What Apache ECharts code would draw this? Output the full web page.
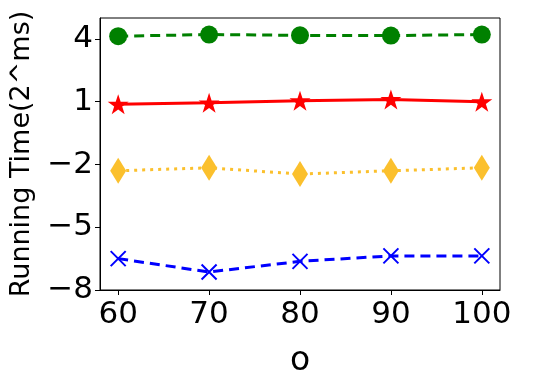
<!DOCTYPE html>
<html>
<head>
<meta charset="utf-8">
<script src="https://cdn.jsdelivr.net/npm/echarts@6/dist/echarts.min.js"></script>
<style>html,body{margin:0;padding:0;background:#fff}#c{width:548px;height:386px}</style>
</head>
<body>
<div id="c"></div>
<script>
const xValues = [60, 70, 80, 90, 100];
const xTickValues = [60, 70, 80, 90, 100];
const yTickValues = [-8, -5, -2, 1, 4];
const yTickLabels = ['\u22128', '\u22125', '\u22122', '1', '4'];
const greenSeries = [4.13, 4.21, 4.17, 4.16, 4.21];
const redSeries = [0.88, 0.95, 1.05, 1.11, 1.00];
const yellowSeries = [-2.30, -2.16, -2.46, -2.30, -2.16];
const blueSeries = [-6.50, -7.14, -6.63, -6.37, -6.37];
const xName = 'o';
const yName = 'Running Time(2^ms)';

const FONT = 'DejaVu Sans';
const starPath = 'path://M10,0 L12.245,6.91 L19.511,6.91 L13.633,11.18 L15.878,18.09 L10,13.82 L4.122,18.09 L6.367,11.18 L0.489,6.91 L7.755,6.91 Z';
const xPath = 'path://M0,0 L10,10 M10,0 L0,10';

function pairs(ys) { return xValues.map((x, i) => [x, ys[i]]); }

const chart = echarts.init(document.getElementById('c'), null, {renderer: 'canvas'});
chart.setOption({
  animation: false,
  backgroundColor: '#fff',
  grid: {left: 100, right: 48, top: 18, bottom: 96, show: true, borderColor: '#000', borderWidth: 1, backgroundColor: 'transparent'},
  xAxis: {
    type: 'value', min: 58, max: 102,
    name: xName, nameLocation: 'middle', nameGap: 55,
    nameTextStyle: {fontFamily: FONT, fontSize: 33, color: '#000'},
    axisLine: {show: true, onZero: false, lineStyle: {color: '#000', width: 1}},
    axisTick: {show: true, inside: false, length: 5, lineStyle: {color: '#000', width: 1}, customValues: xTickValues},
    axisLabel: {show: true, customValues: xTickValues, fontFamily: FONT, fontSize: 31, color: '#000', margin: 9},
    splitLine: {show: false}
  },
  yAxis: {
    type: 'value', min: -8, max: 5,
    name: yName, nameLocation: 'middle', nameGap: 65,
    nameTextStyle: {fontFamily: FONT, fontSize: 27, color: '#000'},
    axisLine: {show: true, onZero: false, lineStyle: {color: '#000', width: 1}},
    axisTick: {show: true, inside: false, length: 5, lineStyle: {color: '#000', width: 1}, customValues: yTickValues},
    axisLabel: {show: true, customValues: yTickValues, fontFamily: FONT, fontSize: 31, color: '#000', margin: 7,
      formatter: v => { const i = yTickValues.indexOf(Math.round(v)); return i >= 0 ? yTickLabels[i] : ''; }},
    splitLine: {show: false}
  },
  series: [
    {type: 'line', data: pairs(greenSeries), symbol: 'circle', symbolSize: 18,
      lineStyle: {color: '#008000', width: 3, type: [10, 6]}, itemStyle: {color: '#008000'}, z: 4},
    {type: 'line', data: pairs(redSeries), symbol: starPath, symbolSize: [21, 20],
      lineStyle: {color: '#ff0000', width: 3, type: 'solid'}, itemStyle: {color: '#ff0000'}, z: 3},
    {type: 'line', data: pairs(yellowSeries), symbol: 'diamond', symbolSize: [16, 26],
      lineStyle: {color: '#fbc02d', width: 3, type: [3, 5]}, itemStyle: {color: '#fbc02d'}, z: 2},
    {type: 'line', data: pairs(blueSeries), symbol: xPath, symbolSize: 15,
      lineStyle: {color: '#0000ff', width: 3, type: [10, 6]}, itemStyle: {color: 'rgba(0,0,0,0)', borderColor: '#0000ff', borderWidth: 2}, z: 1}
  ]
});
</script>
</body>
</html>
